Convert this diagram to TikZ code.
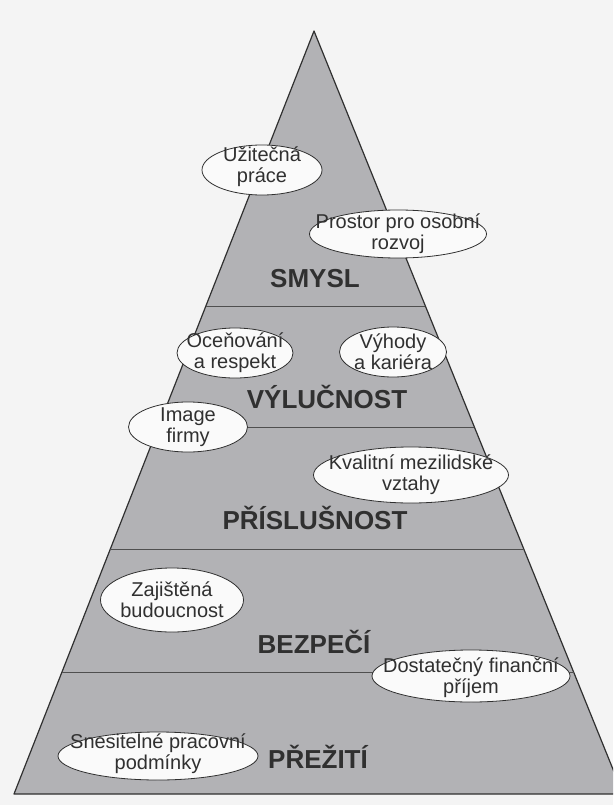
\documentclass[tikz,border=0pt]{standalone}
\usepackage{fontspec}
\setmainfont{Liberation Sans}
\usetikzlibrary{shapes.geometric,calc}
\definecolor{bgc}{RGB}{244,244,244}
\definecolor{pyr}{RGB}{178,178,181}
\definecolor{ink}{RGB}{48,48,48}
\definecolor{ovalfill}{RGB}{250,250,250}
\tikzset{
  ovalshape/.style={ellipse, draw=ink, line width=0.8pt, fill=ovalfill, inner sep=0pt},
  ovaltext/.style={inner sep=0pt, align=center, text=ink, font=\fontsize{20}{21}\selectfont},
  levellabel/.style={anchor=base, inner sep=0pt, text=ink, font=\fontsize{26}{28}\selectfont\bfseries},
  divider/.style={draw=ink!85, line width=0.8pt},
  outline/.style={draw=ink, line width=1.2pt, line join=round},
}
\begin{document}
\begin{tikzpicture}[x=1pt,y=-1pt]
\fill[bgc] (0,0) rectangle (613,805);
\useasboundingbox (0,0) rectangle (613,805);
\clip (0,0) rectangle (613,805);
% pyramid
\coordinate (apex) at (314,31);
\coordinate (bl) at (14,794);
\coordinate (br) at (623,794);
\fill[pyr] (apex) -- (br) -- (bl) -- cycle;
\draw[outline] (apex) -- (br) -- (bl) -- cycle;
% dividers
\foreach \t/\n in {0.3604/a,0.519/b,0.6789/c,0.8401/d} {
  \coordinate (L\n) at ($(apex)!\t!(bl)$);
  \coordinate (R\n) at ($(apex)!\t!(br)$);
  \draw[divider] (L\n) -- (R\n);
}
% level labels
\node[levellabel] (smysl) at (315,287) {SMYSL};
\node[levellabel] (vylucnost) at (327,408) {VÝLUČNOST};
\node[levellabel] (prislusnost) at (315,529) {PŘÍSLUŠNOST};
\node[levellabel] (bezpeci) at (314,653) {BEZPEČÍ};
\node[levellabel] (preziti) at (318,768) {PŘEŽITÍ};
% ovals
\node[ovalshape, minimum width=120pt, minimum height=50pt] (u) at (262,170) {};
\node[ovaltext] (ut) at ($(u)+(0,-3)$) {Užitečná\\práce};
\node[ovalshape, minimum width=177pt, minimum height=48pt] (p) at (398,234) {};
\node[ovaltext] (pt) at (p) {Prostor pro osobní\\rozvoj};
\node[ovalshape, minimum width=116pt, minimum height=50pt] (o) at (235,353) {};
\node[ovaltext] (ot) at (o) {Oceňování\\a respekt};
\node[ovalshape, minimum width=107pt, minimum height=50pt] (v) at (393,352) {};
\node[ovaltext] (vt) at (v) {Výhody\\a kariéra};
\node[ovalshape, minimum width=119pt, minimum height=50pt] (i) at (188,427) {};
\node[ovaltext] (it) at (i) {Image\\firmy};
\node[ovalshape, minimum width=195pt, minimum height=56pt] (k) at (411,475) {};
\node[ovaltext] (kt) at (k) {Kvalitní mezilidské\\vztahy};
\node[ovalshape, minimum width=143pt, minimum height=64pt] (z) at (172,600) {};
\node[ovaltext] (zt) at (z) {Zajištěná\\budoucnost};
\node[ovalshape, minimum width=198pt, minimum height=52pt] (d) at (471,676) {};
\node[ovaltext] (dt) at ($(d)+(0,2)$) {Dostatečný finanční\\příjem};
\node[ovalshape, minimum width=200pt, minimum height=48pt] (s) at (158,756) {};
\node[ovaltext] (st) at ($(s)+(0,-2)$) {Snesitelné pracovní\\podmínky};
\end{tikzpicture}
\end{document}
